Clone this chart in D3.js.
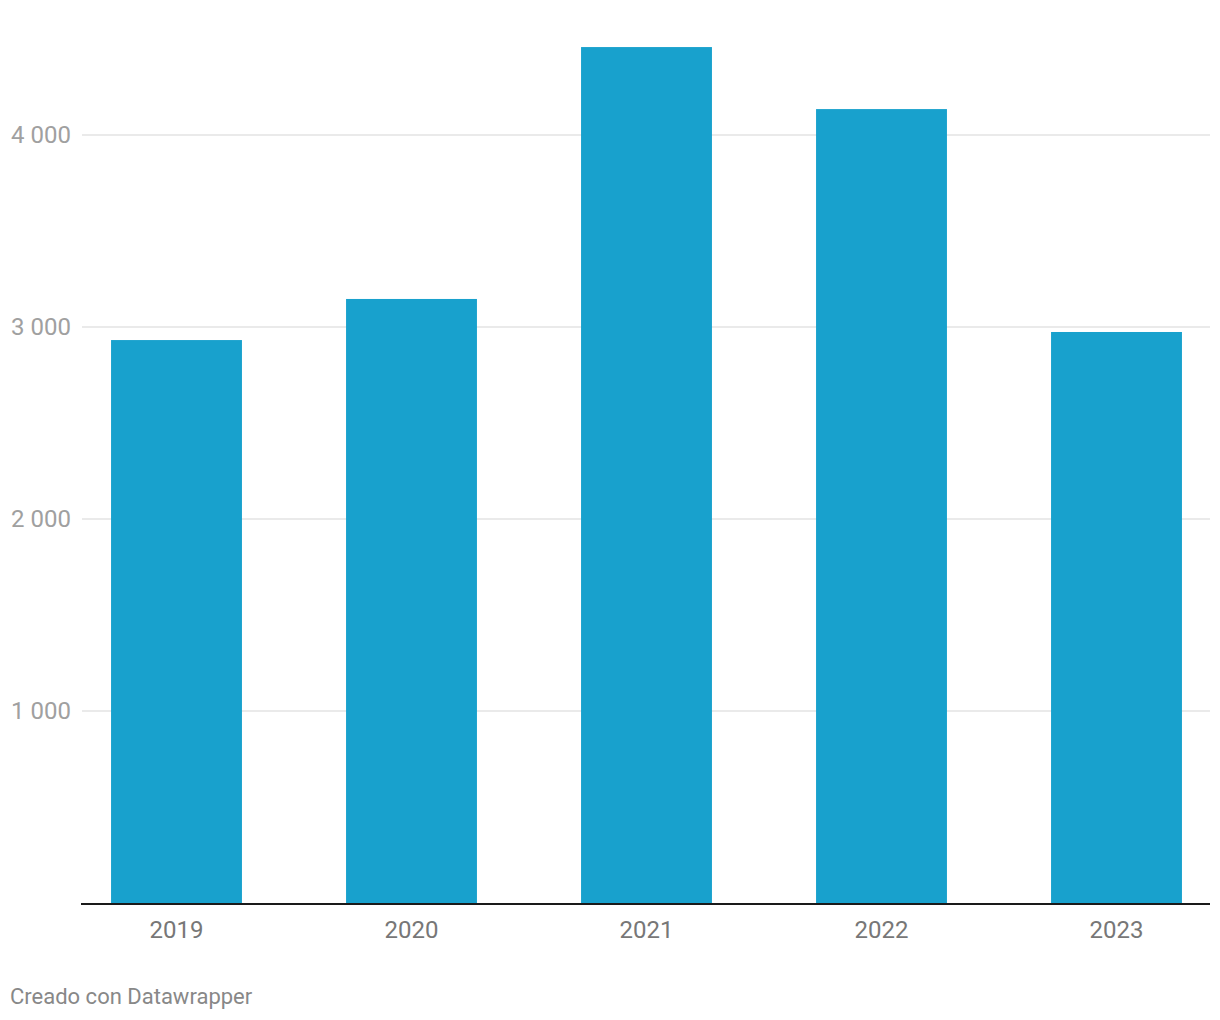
<!DOCTYPE html>
<html><head><meta charset="utf-8">
<script src="https://cdn.jsdelivr.net/npm/d3@7"></script>
<style>body{margin:0;background:#fff;font-family:Roboto,sans-serif}</style>
</head><body>
<svg id="c" width="1220" height="1020"></svg>
<script>
const years = ["2019","2020","2021","2022","2023"];
const values = [2932, 3146, 4458, 4135, 2974];
const yTicks = [1000, 2000, 3000, 4000];
const footer = "Creado con Datawrapper";

const svg = d3.select("#c");
const x = d3.scaleBand().domain(years).range([59,1234]).paddingInner(0.443).paddingOuter(0.2215);
const y = d3.scaleLinear().domain([0,4000]).range([903,135]);
const fmt = d => d3.format(",")(d).replace(/,/g," ");

const grid = svg.append("g");
grid.selectAll("line").data(yTicks).join("line")
  .attr("x1",82).attr("x2",1210).attr("y1",d=>y(d)).attr("y2",d=>y(d))
  .attr("stroke","#e3e3e3").attr("stroke-width",1.5);
grid.selectAll("text").data(yTicks).join("text")
  .attr("x",11).attr("y",d=>y(d)).attr("dy","0.35em")
  .attr("font-size",24).attr("fill","#a0a0a0").text(fmt);

svg.append("g").selectAll("rect").data(values).join("rect")
  .attr("x",(d,i)=>x(years[i])).attr("width",x.bandwidth())
  .attr("y",d=>y(d)).attr("height",d=>y(0)-y(d)).attr("fill","#18a1cd");

svg.append("line").attr("x1",81).attr("x2",1210).attr("y1",904).attr("y2",904)
  .attr("stroke","#1a1a1a").attr("stroke-width",2);

svg.append("g").selectAll("text").data(years).join("text")
  .attr("x",d=>x(d)+x.bandwidth()/2).attr("y",938).attr("text-anchor","middle")
  .attr("font-size",24).attr("fill","#777").text(d=>d);

svg.append("text").attr("x",10).attr("y",1004).attr("font-size",22).attr("fill","#888").text(footer);
</script>
</body></html>
